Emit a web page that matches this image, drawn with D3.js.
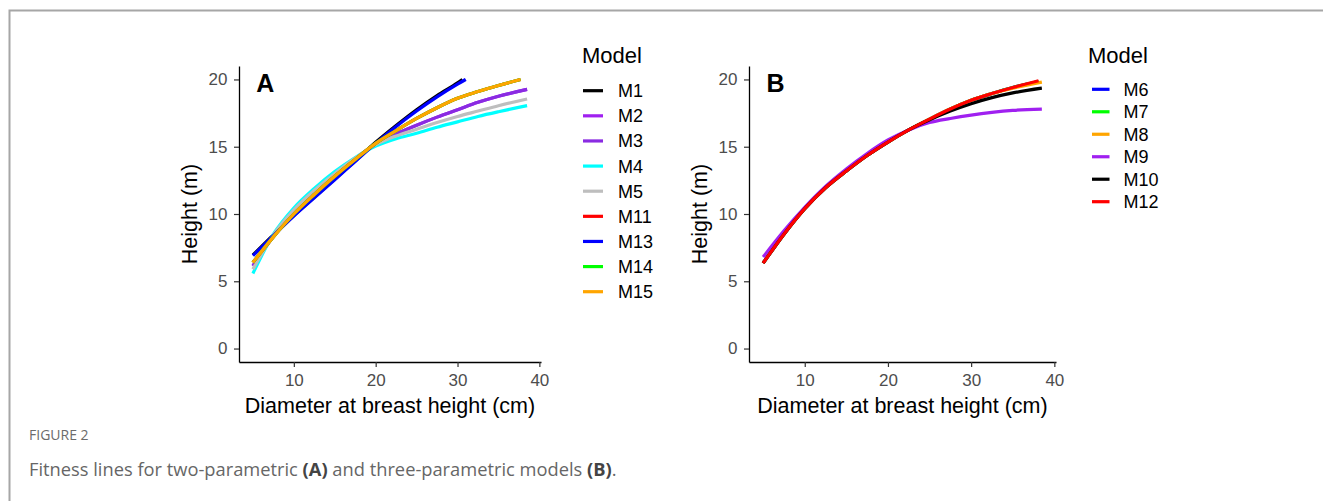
<!DOCTYPE html>
<html><head><meta charset="utf-8">
<script src="https://cdn.jsdelivr.net/npm/d3@7"></script>
<style>html,body{margin:0;padding:0;background:#fff;} svg{display:block;}</style>
</head><body><svg id="chart" width="1323" height="501"></svg>
<script>
// ---------------- DATA ----------------
// Panel A (two-parametric models)
const modelsA = ["M1", "M2", "M3", "M4", "M5", "M11", "M13", "M14", "M15"];
const dbhA   = [5, 7.5, 10, 12.5, 15, 17.5, 20, 22.5, 25, 27.5, 30, 32.5, 35, 38.5];
const dbhM1  = [5, 7.5, 10, 12.5, 15, 17.5, 20, 22.5, 25, 27.5, 30, 30.6];
const dbhM13 = [5, 7.5, 10, 12.5, 15, 17.5, 20, 22.5, 25, 27.5, 30, 31];
const dbhM15 = [5, 7.5, 10, 12.5, 15, 17.5, 20, 22.5, 25, 27.5, 30, 32.5, 35, 37.7];
const hM1  = [6.95, 8.45, 9.9, 11.25, 12.6, 13.95, 15.33, 16.58, 17.75, 18.8, 19.75, 20.0];
const hM2  = [6.15, 8.35, 10.15, 11.6, 12.9, 14.1, 15.2, 15.95, 16.6, 17.2, 17.75, 18.3, 18.75, 19.26];
const hM3  = [6.15, 8.35, 10.15, 11.6, 12.9, 14.1, 15.2, 15.95, 16.6, 17.2, 17.75, 18.3, 18.75, 19.26];
const hM4  = [5.58, 8.5, 10.45, 11.9, 13.15, 14.2, 15.05, 15.6, 16.0, 16.45, 16.85, 17.25, 17.6, 18.05];
const hM5  = [5.9, 8.45, 10.3, 11.75, 13.0, 14.15, 15.15, 15.8, 16.3, 16.8, 17.25, 17.65, 18.05, 18.55];
const hM11 = [6.4, 8.3, 10.0, 11.45, 12.8, 14.05, 15.25, 16.2, 17.1, 17.9, 18.6, 19.1, 19.55, 20.0];
const hM13 = [6.9, 8.4, 9.85, 11.2, 12.55, 13.9, 15.25, 16.5, 17.65, 18.7, 19.65, 20.0];
const hM14 = [6.4, 8.3, 10.0, 11.45, 12.8, 14.05, 15.25, 16.2, 17.1, 17.9, 18.6, 19.1, 19.55, 20.0];
const hM15 = [6.4, 8.3, 10.0, 11.45, 12.8, 14.05, 15.25, 16.2, 17.1, 17.9, 18.6, 19.1, 19.55, 20.0];

// Panel B (three-parametric models)
const modelsB = ["M6", "M7", "M8", "M9", "M10", "M12"];
const dbhB   = [5, 7.5, 10, 12.5, 15, 17.5, 20, 22.5, 25, 27.5, 30, 32.5, 35, 38.5];
const dbhM12 = [5, 7.5, 10, 12.5, 15, 17.5, 20, 22.5, 25, 27.5, 30, 32.5, 35, 38.1];
const hM6  = [6.35, 8.5, 10.4, 11.95, 13.2, 14.35, 15.35, 16.25, 17.05, 17.8, 18.45, 18.95, 19.4, 19.85];
const hM7  = [6.35, 8.5, 10.4, 11.95, 13.2, 14.35, 15.35, 16.25, 17.05, 17.8, 18.45, 18.95, 19.4, 19.85];
const hM8  = [6.35, 8.5, 10.4, 11.95, 13.2, 14.35, 15.35, 16.25, 17.05, 17.8, 18.45, 18.95, 19.35, 19.8];
const hM9  = [6.8, 8.75, 10.5, 12.05, 13.35, 14.5, 15.5, 16.25, 16.8, 17.1, 17.35, 17.55, 17.7, 17.8];
const hM10 = [6.35, 8.5, 10.4, 11.95, 13.2, 14.35, 15.35, 16.25, 17.0, 17.65, 18.2, 18.65, 19.0, 19.35];
const hM12 = [6.35, 8.5, 10.4, 11.95, 13.2, 14.35, 15.35, 16.25, 17.05, 17.8, 18.45, 18.95, 19.4, 19.9];

// Axes
const xTicks = [10, 20, 30, 40];
const yTicks = [0, 5, 10, 15, 20];
const xTitle = "Diameter at breast height (cm)";
const yTitle = "Height (m)";
const legendTitle = "Model";
const captionHead = "FIGURE 2";

// ---------------- STYLE ----------------
const colorOf = {
  M1: "#000000", M2: "#A020F0", M3: "#8A2BE2", M4: "#00FFFF", M5: "#BEBEBE",
  M11: "#FF0000", M13: "#0000FF", M14: "#00FF00", M15: "#FFA500",
  M6: "#0000FF", M7: "#00FF00", M8: "#FFA500", M9: "#A020F0", M10: "#000000", M12: "#FF0000"
};
const FONT = "'Liberation Sans', Arial, Helvetica, sans-serif";

const seriesA = [
  {m: "M1", d: dbhM1, h: hM1}, {m: "M2", d: dbhA, h: hM2}, {m: "M3", d: dbhA, h: hM3},
  {m: "M4", d: dbhA, h: hM4}, {m: "M5", d: dbhA, h: hM5}, {m: "M11", d: dbhM15, h: hM11},
  {m: "M13", d: dbhM13, h: hM13}, {m: "M14", d: dbhM15, h: hM14}, {m: "M15", d: dbhM15, h: hM15}
];
const seriesB = [
  {m: "M6", d: dbhM12, h: hM6}, {m: "M7", d: dbhM12, h: hM7}, {m: "M8", d: dbhB, h: hM8},
  {m: "M9", d: dbhB, h: hM9}, {m: "M10", d: dbhB, h: hM10}, {m: "M12", d: dbhM12, h: hM12}
];

const svg = d3.select("#chart");
svg.append("rect").attr("width", 1323).attr("height", 501).attr("fill", "#fff");

// frame
svg.append("path").attr("d", "M9.5,501 L9.5,10.5 L1323,10.5")
  .attr("fill", "none").attr("stroke", "#a6a6a6").attr("stroke-width", 2);

function panel(opts) {
  const g = svg.append("g");
  const x = d3.scaleLinear().domain([3.3, 40.2]).range([opts.x0, opts.x1]);
  const y = d3.scaleLinear().domain([-1, 21]).range([362, 66]);

  const line = d3.line().x(p => x(p[0])).y(p => y(p[1])).curve(d3.curveMonotoneX);
  opts.series.forEach(s => {
    g.append("path").datum(d3.zip(s.d, s.h)).attr("d", line)
      .attr("fill", "none").attr("stroke", colorOf[s.m]).attr("stroke-width", 3.2)
      .attr("stroke-linejoin", "round");
  });

  const xa = g.append("g").attr("transform", `translate(0,${y.range()[0]})`)
    .call(d3.axisBottom(x).tickValues(xTicks).tickSize(5).tickSizeOuter(0).tickPadding(6.5));
  const ya = g.append("g").attr("transform", `translate(${x.range()[0]},0)`)
    .call(d3.axisLeft(y).tickValues(yTicks).tickSize(5).tickSizeOuter(0).tickPadding(6.5));
  [xa, ya].forEach(a => {
    a.select(".domain").attr("stroke", "#000").attr("stroke-width", 1.3);
    a.selectAll(".tick line").attr("stroke", "#333").attr("stroke-width", 1.2);
    a.selectAll(".tick text").attr("fill", "#4d4d4d").style("font-family", FONT).style("font-size", "17px");
  });

  g.append("text").attr("x", (x.range()[0] + x.range()[1]) / 2).attr("y", 413)
    .attr("text-anchor", "middle").style("font-family", FONT).style("font-size", "21.5px")
    .attr("fill", "#000").text(xTitle);
  g.append("text").attr("transform", `translate(${x.range()[0] - 42},${(y.range()[0] + y.range()[1]) / 2}) rotate(-90)`)
    .attr("text-anchor", "middle").style("font-family", FONT).style("font-size", "21.5px")
    .attr("fill", "#000").text(yTitle);

  g.append("text").attr("x", x(6.5)).attr("y", y(19.7)).attr("dy", "0.36em")
    .attr("text-anchor", "middle").style("font-family", FONT).style("font-size", "25px")
    .style("font-weight", "bold").attr("fill", "#000").text(opts.label);

  // legend
  const lg = svg.append("g");
  lg.append("text").attr("x", opts.lx).attr("y", 63).style("font-family", FONT)
    .style("font-size", "22px").attr("fill", "#000").text(legendTitle);
  const ly = d3.scaleLinear().domain([0, opts.models.length - 1]).range(opts.lyRange);
  opts.models.forEach((m, i) => {
    lg.append("line").attr("x1", opts.kx0).attr("x2", opts.kx1).attr("y1", ly(i)).attr("y2", ly(i))
      .attr("stroke", colorOf[m]).attr("stroke-width", 3.2);
    lg.append("text").attr("x", opts.tx).attr("y", ly(i)).attr("dy", "0.36em")
      .style("font-family", FONT).style("font-size", "18px").attr("fill", "#000").text(m);
  });
}

panel({x0: 239, x1: 541, series: seriesA, label: "A", models: modelsA,
  lx: 582, lyRange: [90.7, 291.7], kx0: 583, kx1: 603, tx: 618});
panel({x0: 749, x1: 1056, series: seriesB, label: "B", models: modelsB,
  lx: 1088, lyRange: [89.3, 201.7], kx0: 1092, kx1: 1109.5, tx: 1123.5});

// caption
const CFONT = "'Open Sans', 'Noto Sans', sans-serif";
svg.append("text").attr("x", 29).attr("y", 440).style("font-family", CFONT)
  .style("font-size", "14px").attr("fill", "#6b6b6b").text(captionHead);
const cap = svg.append("text").attr("x", 29).attr("y", 476).style("font-family", CFONT)
  .style("font-size", "16px").attr("fill", "#666");
const capParts = [["Fitness lines for two-parametric ", false], ["(A)", true],
  [" and three-parametric models ", false], ["(B)", true], [".", false]];
capParts.forEach(p => cap.append("tspan").text(p[0])
  .attr("font-weight", p[1] ? "bold" : null).attr("fill", p[1] ? "#444" : null));
const w = cap.node().getComputedTextLength();
cap.style("font-size", (16 * 588 / w).toFixed(2) + "px");
</script></body></html>
